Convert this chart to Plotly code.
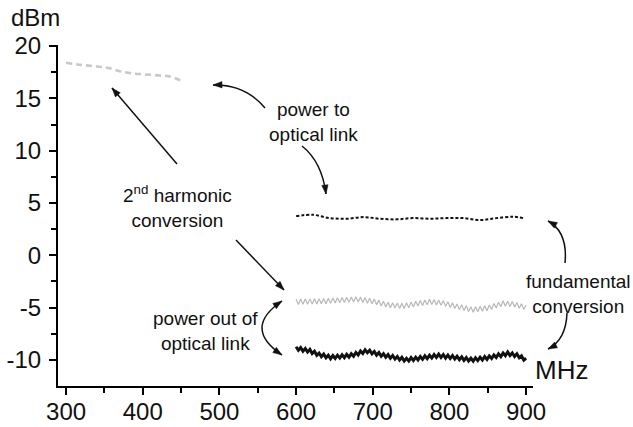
import numpy as np
import plotly.graph_objects as go

# ---- measured curves -------------------------------------------------------
# 2nd harmonic conversion, power into the optical link (dBm)
harm_freq = [300, 320, 340, 355, 370, 385, 400, 420, 435, 450]
harm_in = [18.4, 18.2, 18.05, 17.9, 17.6, 17.4, 17.3, 17.2, 17.1, 16.7]

# fundamental conversion, power into the optical link (dBm)
fund_freq = [600, 622, 644, 666, 688, 709, 731, 752, 775, 796, 818, 840, 861, 883, 896]
fund_in = [3.74, 3.87, 3.55, 3.49, 3.65, 3.49, 3.43, 3.55, 3.49, 3.55, 3.55, 3.36,
           3.55, 3.68, 3.55]

# swept outputs of the optical link, 600-900 MHz in 3 MHz steps
sweep_freq = np.arange(600, 900.1, 3)

fund_out = [
    -4.20, -4.70, -4.19, -4.68, -4.18, -4.68, -4.17, -4.67, -4.16, -4.66,
    -4.15, -4.64, -4.14, -4.63, -4.12, -4.60, -4.09, -4.57, -4.06, -4.55,
    -4.03, -4.52, -4.01, -4.49, -3.98, -4.47, -3.96, -4.46, -3.99, -4.52,
    -4.05, -4.58, -4.11, -4.64, -4.19, -4.74, -4.29, -4.84, -4.40, -4.95,
    -4.50, -5.02, -4.53, -5.05, -4.56, -5.08, -4.59, -5.09, -4.55, -5.01,
    -4.48, -4.94, -4.40, -4.86, -4.33, -4.80, -4.27, -4.74, -4.21, -4.71,
    -4.23, -4.75, -4.27, -4.79, -4.34, -4.89, -4.44, -4.99, -4.55, -5.10,
    -4.65, -5.20, -4.74, -5.29, -4.83, -5.38, -4.92, -5.44, -4.92, -5.40,
    -4.88, -5.35, -4.83, -5.31, -4.75, -5.19, -4.62, -5.05, -4.49, -4.92,
    -4.35, -4.87, -4.39, -4.91, -4.43, -4.95, -4.51, -5.07, -4.63, -5.19,
    -4.75,
]

harm_out = [
    -8.75, -9.09, -8.83, -9.18, -8.92, -9.26, -9.00, -9.39, -9.18, -9.56,
    -9.35, -9.70, -9.45, -9.80, -9.55, -9.90, -9.58, -9.86, -9.55, -9.83,
    -9.51, -9.79, -9.47, -9.75, -9.41, -9.65, -9.29, -9.53, -9.16, -9.40,
    -9.04, -9.32, -9.08, -9.43, -9.19, -9.55, -9.30, -9.66, -9.41, -9.76,
    -9.50, -9.85, -9.59, -9.93, -9.68, -10.02, -9.76, -10.11, -9.85, -10.12,
    -9.79, -10.06, -9.74, -10.01, -9.68, -9.95, -9.62, -9.89, -9.56, -9.83,
    -9.50, -9.77, -9.46, -9.78, -9.50, -9.83, -9.55, -9.87, -9.59, -9.92,
    -9.65, -9.98, -9.71, -10.05, -9.78, -10.11, -9.84, -10.13, -9.80, -10.07,
    -9.75, -10.02, -9.69, -9.96, -9.62, -9.87, -9.53, -9.78, -9.43, -9.69,
    -9.34, -9.60, -9.25, -9.59, -9.34, -9.68, -9.42, -9.79, -9.61, -10.03,
    -9.85,
]

x_ticks = [300, 400, 500, 600, 700, 800, 900]
y_ticks = [20, 15, 10, 5, 0, -5, -10]
y_tick_text = ["20", "15", "10", "5", "0", "-5", "-10"]

# ---- figure geometry (pixels) ----------------------------------------------
W, H = 633, 427
L, R, T, B = 58, 100, 45, 41
PW, PH = W - L - R, H - T - B


def px(x, y):
    """Convert page pixels to paper coordinates."""
    return (x - L) / PW, (H - B - y) / PH


FONT = "Liberation Sans, Arial, Helvetica, sans-serif"
INK = "#111111"

fig = go.Figure()
fig.add_trace(go.Scatter(x=harm_freq, y=harm_in, mode="lines",
                         line=dict(color="#c8c8c8", width=2.6, dash="6px,4px",
                                   shape="spline")))
fig.add_trace(go.Scatter(x=fund_freq, y=fund_in, mode="lines",
                         line=dict(color=INK, width=2, dash="3px,2px",
                                   shape="spline")))
fig.add_trace(go.Scatter(x=sweep_freq, y=fund_out, mode="lines",
                         line=dict(color="#b8b8b8", width=1.2)))
fig.add_trace(go.Scatter(x=sweep_freq, y=harm_out, mode="lines",
                         line=dict(color=INK, width=3)))

annotations = []
shapes = []


def text(label, x, y, size=19):
    xp, yp = px(x, y)
    annotations.append(dict(x=xp, y=yp, xref="paper", yref="paper", text=label,
                            showarrow=False, align="center",
                            xanchor="center", yanchor="middle",
                            font=dict(family=FONT, size=size, color=INK)))


def arrow_head(head, toward, length=9, half=3.2):
    """Filled triangular head at `head`, pointing away from `toward`."""
    dx, dy = head[0] - toward[0], head[1] - toward[1]
    n = (dx * dx + dy * dy) ** 0.5
    ux, uy = dx / n, dy / n
    bx, by = head[0] - ux * length, head[1] - uy * length
    p1 = px(bx - uy * half, by + ux * half)
    p2 = px(bx + uy * half, by - ux * half)
    tip = px(*head)
    shapes.append(dict(type="path", xref="paper", yref="paper",
                       path=f"M {tip[0]},{tip[1]} L {p1[0]},{p1[1]} L {p2[0]},{p2[1]} Z",
                       fillcolor=INK, line=dict(color=INK, width=0.5)))


def straight_arrow(tail, head):
    a, d = px(*tail), px(*head)
    shapes.append(dict(type="line", xref="paper", yref="paper",
                       x0=a[0], y0=a[1], x1=d[0], y1=d[1],
                       line=dict(color=INK, width=1.5)))
    arrow_head(head, tail)


def curved_arrow(p0, c, p1, both=False):
    a, b_, d = px(*p0), px(*c), px(*p1)
    shapes.append(dict(type="path", xref="paper", yref="paper",
                       path=f"M {a[0]},{a[1]} Q {b_[0]},{b_[1]} {d[0]},{d[1]}",
                       line=dict(color=INK, width=1.5)))
    arrow_head(p1, c)
    if both:
        arrow_head(p0, c)


text("power to<br>optical link", 313, 122)
text("2<sup>nd</sup> harmonic<br>conversion", 177, 206)
text("power out of<br>optical link", 205, 331)
text("fundamental<br>conversion", 578, 294)
text("dBm", 35, 17, size=24)
text("MHz", 561, 370, size=26)

straight_arrow((177, 164), (112, 88))
straight_arrow((236, 240), (284, 290))
curved_arrow((265, 108), (245, 84), (213, 85))
curved_arrow((302, 146), (322, 162), (326, 194))
curved_arrow((282, 301), (242, 328), (282, 355), both=True)
curved_arrow((565, 263), (568, 232), (548, 221))
curved_arrow((567, 313), (566, 340), (548, 349))

axis_common = dict(showline=True, linecolor="black", linewidth=2,
                   ticks="outside", ticklen=7, tickwidth=1.5, tickcolor="black",
                   showgrid=False, zeroline=False, automargin=False,
                   tickfont=dict(family=FONT, size=24, color=INK))

fig.update_layout(
    width=W, height=H,
    margin=dict(l=L, r=R, t=T, b=B, pad=0),
    paper_bgcolor="white", plot_bgcolor="white",
    showlegend=False,
    xaxis=dict(range=[289.5, 909], tickvals=x_ticks, ticklabelstandoff=-4,
               minor=dict(tickvals=[350, 450, 550, 650, 750, 850], ticks="outside",
                          ticklen=5, tickwidth=1.5, tickcolor="black"),
               **axis_common),
    yaxis=dict(range=[-12.5, 20.1], tickvals=y_ticks, ticktext=y_tick_text,
               ticklabelstandoff=3,
               minor=dict(tickvals=[17.5, 12.5, 7.5, 2.5, -2.5, -7.5], ticks="outside",
                          ticklen=5, tickwidth=1.5, tickcolor="black"),
               **axis_common),
    annotations=annotations,
    shapes=shapes,
)

fig.write_html("out.html")
